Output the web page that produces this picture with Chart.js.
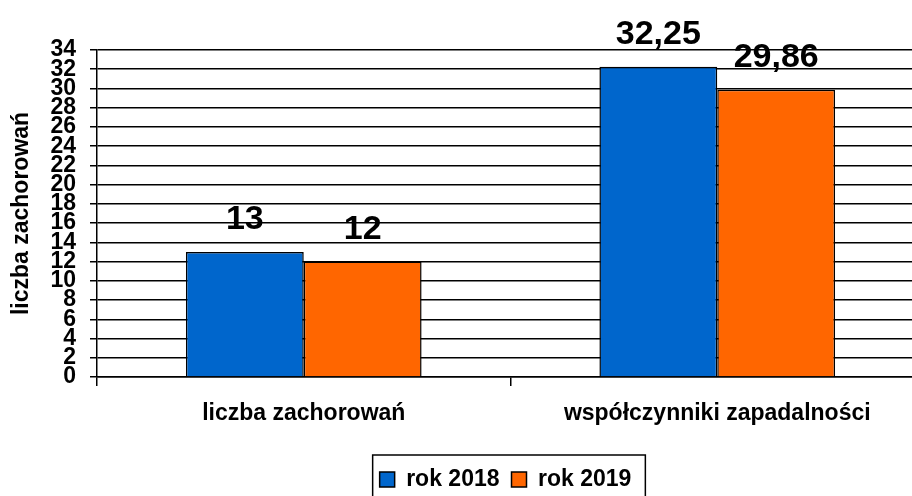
<!DOCTYPE html>
<html>
<head>
<meta charset="utf-8">
<script src="https://cdn.jsdelivr.net/npm/chart.js@4/dist/chart.umd.min.js"></script>
<style>
html,body{margin:0;padding:0;background:#fff;overflow:hidden;}
#wrap{width:912px;height:496px;overflow:hidden;position:relative;}
canvas{display:block;}
</style>
</head>
<body>
<div id="wrap"><canvas id="c" width="1018" height="496"></canvas></div>
<script>
const categories = ['liczba zachorowań', 'współczynniki zapadalności'];
const seriesNames = ['rok 2018', 'rok 2019'];
const values2018 = [13, 32.25];
const values2019 = [12, 29.86];
const seriesColors = ['#0066CC', '#FF6600'];
const yAxisTitle = 'liczba zachorowań';
const yMin = 0, yMax = 34, yStep = 2;

const FONT = "'Liberation Sans', Arial, sans-serif";

const valueLabels = {
  id: 'valueLabels',
  afterDatasetsDraw(chart) {
    const ctx = chart.ctx;
    ctx.save();
    ctx.font = 'bold 34px ' + FONT;
    ctx.fillStyle = '#000';
    ctx.textAlign = 'center';
    ctx.textBaseline = 'alphabetic';
    chart.data.datasets.forEach((ds, i) => {
      chart.getDatasetMeta(i).data.forEach((bar, j) => {
        const txt = String(ds.data[j]).replace('.', ',');
        ctx.fillText(txt, bar.x, bar.y - 23);
      });
    });
    ctx.restore();
  }
};

const legendShift = {
  id: 'legendShift',
  beforeDraw(chart) {
    const lg = chart.legend;
    if (!lg || lg._shifted) return;
    const dx = -5;
    lg.left += dx; lg.right += dx;
    (lg.legendHitBoxes || []).forEach(h => { h.left += dx; });
    lg._shifted = true;
  }
};

const legendBox = {
  id: 'legendBox',
  afterDraw(chart) {
    const lg = chart.legend;
    if (!lg || !lg.legendHitBoxes || !lg.legendHitBoxes.length) return;
    const hb = lg.legendHitBoxes;
    const first = hb[0], last = hb[hb.length - 1];
    const ctx = chart.ctx;
    ctx.save();
    ctx.strokeStyle = '#000';
    ctx.lineWidth = 1.5;
    const l = first.left - 7, r = last.left + last.width + 14;
    const t = first.top - 13;
    ctx.strokeRect(l, t, r - l, 60);
    ctx.restore();
  }
};

new Chart(document.getElementById('c'), {
  type: 'bar',
  data: {
    labels: categories,
    datasets: [
      { label: seriesNames[0], data: values2018, backgroundColor: seriesColors[0], borderColor: '#000', borderWidth: 1.5, categoryPercentage: 0.57, barPercentage: 1.0 },
      { label: seriesNames[1], data: values2019, backgroundColor: seriesColors[1], borderColor: '#000', borderWidth: 1.5, categoryPercentage: 0.57, barPercentage: 1.0 }
    ]
  },
  options: {
    responsive: false,
    devicePixelRatio: 1,
    animation: false,
    layout: { padding: { left: 8, right: 94, top: 50, bottom: -5 } },
    plugins: {
      tooltip: { enabled: false },
      legend: {
        position: 'bottom',
        fullSize: false,
        labels: {
          color: '#000',
          font: { family: FONT, size: 23, weight: 'bold' },
          boxWidth: 15,
          boxHeight: 15,
          padding: 12
        }
      }
    },
    scales: {
      x: {
        afterFit(scale) { scale.height = 79; },
        grid: { display: true, drawOnChartArea: false, drawTicks: true, tickLength: 9, color: '#000', lineWidth: 1.5, offset: true },
        border: { display: true, color: '#000', width: 1.5 },
        ticks: { color: '#000', font: { family: FONT, size: 23, weight: 'bold' }, padding: 14, maxRotation: 0 }
      },
      y: {
        min: yMin, max: yMax,
        afterFit(scale) { scale.width = 89; },
        grid: { color: '#000', lineWidth: 1.5, tickLength: 7 },
        border: { display: true, color: '#000', width: 1.5 },
        ticks: { stepSize: yStep, autoSkip: false, color: '#000', font: { family: FONT, size: 23, weight: 'bold' }, padding: 14 },
        title: { display: true, text: yAxisTitle, color: '#000', font: { family: FONT, size: 23, weight: 'bold' }, padding: { top: 0, bottom: 10 } }
      }
    }
  },
  plugins: [valueLabels, legendShift, legendBox]
});
</script>
</body>
</html>
